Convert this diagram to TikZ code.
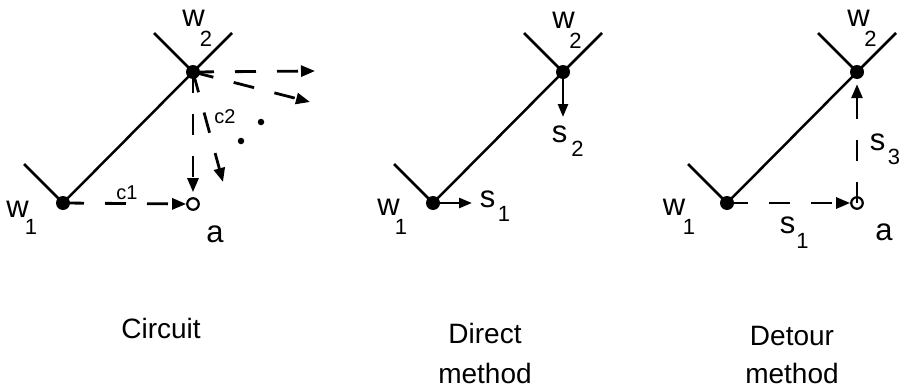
\documentclass[tikz,border=0pt]{standalone}
\usepackage{fontspec}
\setmainfont{Liberation Sans}
\usetikzlibrary{arrows.meta}
\pgfdeclarelayer{bg}
\pgfsetlayers{bg,main}
\tikzset{
  dot/.style={circle, fill=black, inner sep=0pt, minimum size=14pt},
  smalldot/.style={circle, fill=black, inner sep=0pt, minimum size=6.5pt},
  opendot/.style={circle, draw=black, line width=2.2pt, fill=none, inner sep=0pt, minimum size=11.5pt},
  wire/.style={line width=2.5pt},
  darrow/.style={line width=2.8pt, dash pattern=on 21pt off 21pt, -{Triangle[length=14pt,width=11pt]}},
  sarrow/.style={line width=2.5pt, -{Triangle[length=13pt,width=10pt]}},
  lab/.style={anchor=base, inner sep=0pt, font=\fontsize{31}{36}\selectfont},
  sub/.style={anchor=base, inner sep=0pt, font=\fontsize{22}{26}\selectfont},
  clab/.style={anchor=base, inner sep=0pt, font=\fontsize{20}{24}\selectfont},
  caption/.style={anchor=base, inner sep=0pt, font=\fontsize{28}{33}\selectfont},
}
\begin{document}
\begin{tikzpicture}[x=1pt,y=-1pt]
\useasboundingbox (0,0) rectangle (908,391);

% ---------------- Panel 1: Circuit ----------------
\node[dot] (Aw1) at (63,203) {};
\node[dot] (Aw2) at (193,72) {};
\node[opendot] (Aa) at (193,204) {};
\coordinate (At1) at (24,164);
\coordinate (At2L) at (154,33);
\coordinate (At2R) at (232,33);
\coordinate (Ae1) at (315,71);
\coordinate (Ae2) at (310,102);
\coordinate (Ae3) at (223,182);
\node[smalldot] (Ad1) at (261,122) {};
\node[smalldot] (Ad2) at (241,141) {};
\begin{pgfonlayer}{bg}
\draw[wire] (At1) -- (Aw1.center) -- (Aw2.center) -- (At2R);
\draw[wire] (At2L) -- (Aw2.center);
\draw[darrow] (Aw1.center) -- (Aa.west);
\draw[darrow, shorten >=5pt] (Aw2.center) -- (Aa.north);
\draw[darrow] (Aw2.center) -- (Ae1);
\draw[darrow] (Aw2.center) -- (Ae2);
\draw[darrow] (Aw2.center) -- (Ae3);
\end{pgfonlayer}
\node[lab] (Alw1) at (17.5,217) {w};
\node[sub] (Als1) at (31,234) {1};
\node[lab] (Alw2) at (193.5,26) {w};
\node[sub] (Als2) at (206,46) {2};
\node[lab] (Ala) at (215,242) {a};
\node[clab] (Alc1) at (127,199) {c1};
\node[clab] (Alc2) at (225,123) {c2};
\node[caption] (Acap) at (161,338) {Circuit};

% ---------------- Panel 2: Direct method ----------------
\node[dot] (Bw1) at (433,203) {};
\node[dot] (Bw2) at (563,72) {};
\coordinate (Bt1) at (394,164);
\coordinate (Bt2L) at (524,33);
\coordinate (Bt2R) at (602,33);
\coordinate (Bs1) at (472,203);
\coordinate (Bs2) at (563,117);
\begin{pgfonlayer}{bg}
\draw[wire] (Bt1) -- (Bw1.center) -- (Bw2.center) -- (Bt2R);
\draw[wire] (Bt2L) -- (Bw2.center);
\draw[sarrow] (Bw1.center) -- (Bs1);
\draw[sarrow] (Bw2.center) -- (Bs2);
\end{pgfonlayer}
\node[lab] (Blw1) at (388.5,215) {w};
\node[sub] (Bls1) at (401,234) {1};
\node[lab] (Blw2) at (563.5,28) {w};
\node[sub] (Bls2) at (575.5,48) {2};
\node[lab] (Bss1) at (487.5,207) {s};
\node[sub] (Bsn1) at (504,221) {1};
\node[lab] (Bss2) at (559.5,142) {s};
\node[sub] (Bsn2) at (577.5,156) {2};
\node[caption] (Bcap1) at (485,343) {Direct};
\node[caption] (Bcap2) at (485,383) {method};

% ---------------- Panel 3: Detour method ----------------
\node[dot] (Cw1) at (727,203) {};
\node[dot] (Cw2) at (857,72) {};
\node[opendot] (Ca) at (857,203) {};
\coordinate (Ct1) at (688,164);
\coordinate (Ct2L) at (818,33);
\coordinate (Ct2R) at (896,33);
\begin{pgfonlayer}{bg}
\draw[wire] (Ct1) -- (Cw1.center) -- (Cw2.center) -- (Ct2R);
\draw[wire] (Ct2L) -- (Cw2.center);
\draw[darrow] (Cw1.center) -- (Ca.west);
\draw[darrow, shorten >=5pt] (Ca.center) -- (Cw2.south);
\end{pgfonlayer}
\node[lab] (Clw1) at (674,215) {w};
\node[sub] (Cls1) at (689,234) {1};
\node[lab] (Clw2) at (858.5,26) {w};
\node[sub] (Cls2) at (870.5,46) {2};
\node[lab] (Css1) at (787.5,233) {s};
\node[sub] (Csn1) at (802.5,248) {1};
\node[lab] (Css3) at (877.5,150) {s};
\node[sub] (Csn3) at (894,164) {3};
\node[lab] (Cla) at (884,240) {a};
\node[caption] (Ccap1) at (792,345) {Detour};
\node[caption] (Ccap2) at (792,383) {method};
\end{tikzpicture}
\end{document}
